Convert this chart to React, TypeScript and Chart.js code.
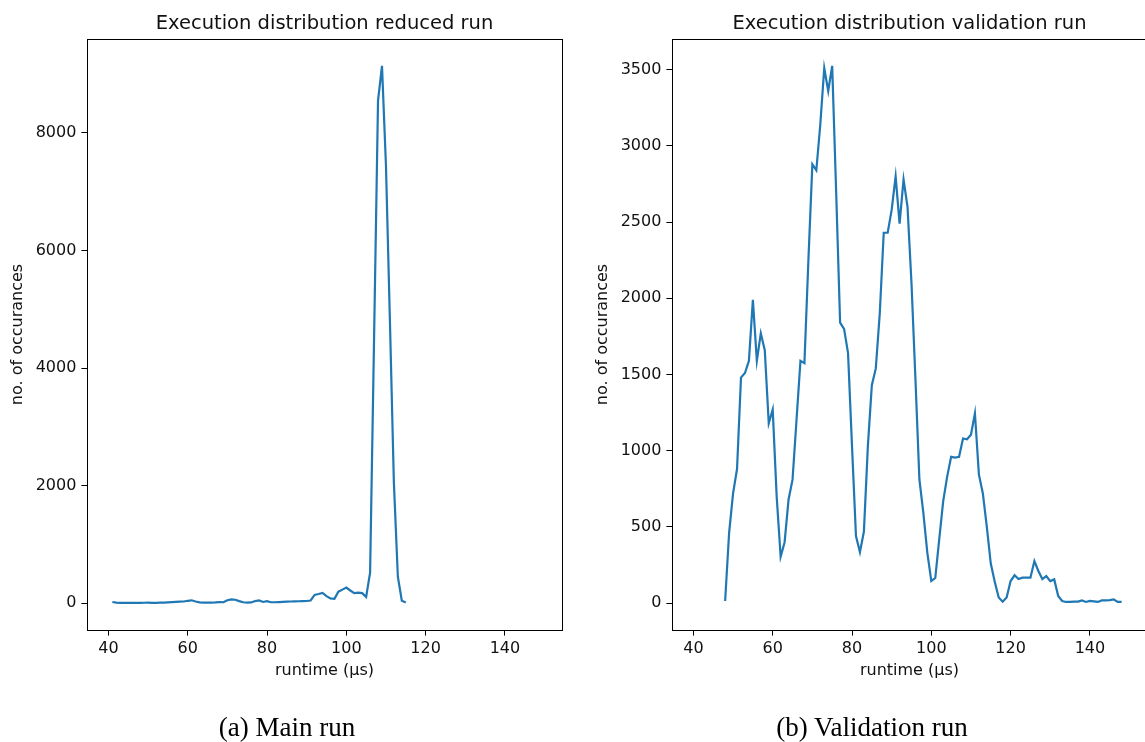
import React, { useEffect, useRef } from "react";
import { Chart, registerables } from "chart.js";

Chart.register(...registerables);

// ---------- data ----------
const mainRuntime: number[] = [
  41, 42, 43, 44, 45, 46, 47, 48, 49, 50, 51, 52, 53, 54, 55, 56, 57, 58, 59, 60,
  61, 62, 63, 64, 65, 66, 67, 68, 69, 70, 71, 72, 73, 74, 75, 76, 77, 78, 79, 80,
  81, 82, 83, 84, 85, 86, 87, 88, 89, 90, 91, 92, 93, 94, 95, 96, 97, 98, 99, 100,
  101, 102, 103, 104, 105, 106, 107, 108, 109, 110, 111, 112, 113, 114, 115,
];
const mainCounts: number[] = [
  20, 8, 5, 5, 5, 5, 5, 6, 7, 8, 6, 5, 8, 10, 14, 18, 22, 25, 28, 40,
  48, 28, 12, 8, 8, 10, 12, 18, 15, 50, 65, 58, 35, 15, 8, 12, 35, 45, 20, 35,
  15, 15, 18, 22, 25, 28, 30, 32, 35, 36, 45, 140, 155, 175, 120, 80, 75, 195, 230, 265,
  215, 170, 178, 170, 105, 520, 4500, 8550, 9140, 7450, 4800, 2050, 450, 40, 10,
];

const validationRuntime: number[] = [
  48, 49, 50, 51, 52, 53, 54, 55, 56, 57, 58, 59, 60, 61, 62, 63, 64, 65, 66, 67,
  68, 69, 70, 71, 72, 73, 74, 75, 76, 77, 78, 79, 80, 81, 82, 83, 84, 85, 86, 87,
  88, 89, 90, 91, 92, 93, 94, 95, 96, 97, 98, 99, 100, 101, 102, 103, 104, 105, 106, 107,
  108, 109, 110, 111, 112, 113, 114, 115, 116, 117, 118, 119, 120, 121, 122, 123, 124, 125, 126, 127,
  128, 129, 130, 131, 132, 133, 134, 135, 136, 137, 138, 139, 140, 141, 142, 143, 144, 145, 146, 147,
  148,
];
const validationCounts: number[] = [
  14, 460, 720, 880, 1480, 1510, 1590, 1990, 1590, 1770, 1660, 1180, 1270, 700, 305, 400, 680, 810, 1200, 1590,
  1575, 2250, 2880, 2840, 3140, 3510, 3360, 3525, 2700, 1840, 1800, 1640, 1030, 440, 335, 470, 1030, 1430, 1540, 1900,
  2430, 2430, 2580, 2800, 2490, 2780, 2600, 2100, 1470, 810, 590, 330, 145, 165, 420, 670, 830, 960, 955, 960,
  1080, 1075, 1105, 1245, 845, 720, 500, 260, 140, 37, 10, 37, 145, 183, 158, 167, 167, 167, 276, 211,
  158, 178, 145, 156, 47, 14, 8, 8, 10, 10, 18, 8, 15, 12, 8, 18, 18, 20, 25, 8,
  8,
];

const xTicks: number[] = [40, 60, 80, 100, 120, 140];
const mainYTicks: number[] = [0, 2000, 4000, 6000, 8000];
const validationYTicks: number[] = [0, 500, 1000, 1500, 2000, 2500, 3000, 3500];

const xMin = 34.6;
const xMax = 154.4;

const CANVAS_W = 580;
const CANVAS_H = 742;

type Spec = {
  title: string;
  xs: number[];
  ys: number[];
  yMin: number;
  yMax: number;
  yTicks: number[];
};

function framePlugin(title: string, xLabel: string, yLabel: string) {
  return {
    id: "frame" + title.length,
    afterDraw(chart: any) {
      const { ctx, chartArea: a } = chart;
      ctx.save();
      ctx.strokeStyle = "#000";
      ctx.lineWidth = 1;
      ctx.strokeRect(
        Math.round(a.left) + 0.5,
        Math.round(a.top) + 0.5,
        Math.round(a.right - a.left),
        Math.round(a.bottom - a.top)
      );
      ctx.fillStyle = "#111";
      ctx.font = '19.5px "DejaVu Sans"';
      ctx.textAlign = "center";
      ctx.textBaseline = "alphabetic";
      ctx.fillText(title, (a.left + a.right) / 2, a.top - 10);
      ctx.font = '16px "DejaVu Sans"';
      ctx.textBaseline = "middle";
      ctx.fillText(xLabel, (a.left + a.right) / 2, 671);
      ctx.translate(a.left - 69, (a.top + a.bottom) / 2);
      ctx.rotate(-Math.PI / 2);
      ctx.fillText(yLabel, 0, 0);
      ctx.restore();
    },
  };
}

function makeChart(canvas: HTMLCanvasElement, spec: Spec) {
  const tickFont = { family: "DejaVu Sans", size: 16 };
  return new Chart(canvas, {
    type: "line",
    data: {
      datasets: [
        {
          data: spec.xs.map((x, i) => ({ x, y: spec.ys[i] })),
          borderColor: "#1f77b4",
          borderWidth: 2.2,
          pointRadius: 0,
          fill: false,
          tension: 0,
        },
      ],
    },
    options: {
      responsive: false,
      animation: false,
      events: [],
      layout: { padding: { left: 0, top: 39, right: 18, bottom: 12 } },
      plugins: { legend: { display: false }, tooltip: { enabled: false }, title: { display: false } },
      scales: {
        x: {
          type: "linear",
          min: xMin,
          max: xMax,
          afterBuildTicks: (s: any) => {
            s.ticks = xTicks.map((v) => ({ value: v }));
          },
          afterFit: (s: any) => {
            s.height = 100;
          },
          grid: { drawOnChartArea: false, tickLength: 5.6, color: "#000" },
          border: { display: false },
          ticks: {
            font: tickFont,
            color: "#111",
            padding: 4,
            maxRotation: 0,
            autoSkip: false,
            callback: (v: any) => String(v),
          },
        },
        y: {
          type: "linear",
          min: spec.yMin,
          max: spec.yMax,
          afterBuildTicks: (s: any) => {
            s.ticks = spec.yTicks.map((v) => ({ value: v }));
          },
          afterFit: (s: any) => {
            s.width = 87;
          },
          grid: { drawOnChartArea: false, tickLength: 5.6, color: "#000" },
          border: { display: false },
          ticks: {
            font: tickFont,
            color: "#111",
            padding: 5,
            autoSkip: false,
            callback: (v: any) => String(v),
          },
        },
      },
    } as any,
    plugins: [framePlugin(spec.title, "runtime (µs)", "no. of occurances")],
  });
}

export default function App() {
  const leftRef = useRef<HTMLCanvasElement | null>(null);
  const rightRef = useRef<HTMLCanvasElement | null>(null);

  useEffect(() => {
    const charts: Chart[] = [];
    if (leftRef.current) {
      charts.push(
        makeChart(leftRef.current, {
          title: "Execution distribution reduced run",
          xs: mainRuntime,
          ys: mainCounts,
          yMin: -457,
          yMax: 9597,
          yTicks: mainYTicks,
        })
      );
    }
    if (rightRef.current) {
      charts.push(
        makeChart(rightRef.current, {
          title: "Execution distribution validation run",
          xs: validationRuntime,
          ys: validationCounts,
          yMin: -176,
          yMax: 3701,
          yTicks: validationYTicks,
        })
      );
    }
    return () => charts.forEach((c) => c.destroy());
  }, []);

  const captionStyle: React.CSSProperties = {
    position: "absolute",
    top: 711,
    width: 400,
    textAlign: "center",
    fontFamily: '"Liberation Serif", serif',
    fontSize: 27,
    lineHeight: "32px",
    color: "#000",
  };

  return (
    <div
      style={{
        position: "fixed",
        left: 0,
        top: 0,
        width: 1145,
        height: 742,
        overflow: "hidden",
        background: "#fff",
      }}
    >
      <canvas
        ref={leftRef}
        width={CANVAS_W}
        height={CANVAS_H}
        style={{ position: "absolute", left: 0, top: 0, width: CANVAS_W, height: CANVAS_H }}
      />
      <canvas
        ref={rightRef}
        width={CANVAS_W}
        height={CANVAS_H}
        style={{ position: "absolute", left: 585, top: 0, width: CANVAS_W, height: CANVAS_H }}
      />
      <div style={{ ...captionStyle, left: 287 - 200 }}>(a) Main run</div>
      <div style={{ ...captionStyle, left: 872 - 200 }}>(b) Validation run</div>
    </div>
  );
}
